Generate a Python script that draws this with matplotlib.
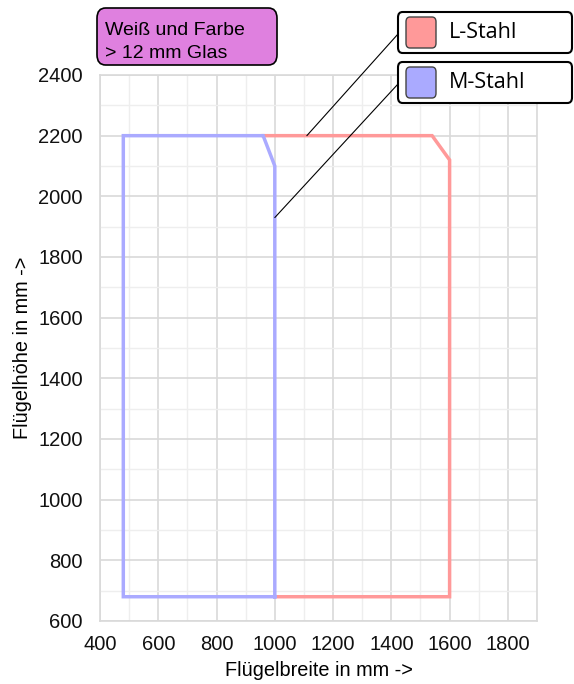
import matplotlib
matplotlib.use("Agg")
import matplotlib.pyplot as plt
from matplotlib.patches import FancyBboxPatch, ConnectionPatch
from matplotlib.ticker import MultipleLocator

# Data
l_stahl_x = [1000, 1600, 1600, 1540, 960]
l_stahl_y = [680, 680, 2120, 2200, 2200]
m_stahl_x = [1000, 1000, 960, 480, 480, 1000]
m_stahl_y = [680, 2100, 2200, 2200, 680, 680]
series_names = ["L-Stahl", "M-Stahl"]
series_colors = ["#FF9999", "#AAAAFF"]
xticks = [400, 600, 800, 1000, 1200, 1400, 1600, 1800]
yticks = [600, 800, 1000, 1200, 1400, 1600, 1800, 2000, 2200, 2400]
title_lines = ["Weiß und Farbe", "> 12 mm Glas"]
xlabel = "Flügelbreite in mm ->"
ylabel = "Flügelhöhe in mm ->"
leader_points = [(1110, 2200), (1000, 1930)]

W, H = 574, 684
fig = plt.figure(figsize=(W / 100, H / 100), dpi=100)

def fx(px):
    return px / W

def fy(py):
    return 1 - py / H

ax = fig.add_axes([fx(100), fy(621), fx(537) - fx(100), fy(75) - fy(621)])
ax.set_xlim(400, 1900)
ax.set_ylim(600, 2400)
ax.set_xticks(xticks)
ax.set_yticks(yticks)
ax.xaxis.set_minor_locator(MultipleLocator(100))
ax.yaxis.set_minor_locator(MultipleLocator(100))
ax.grid(which="major", color="#D9D9D9", lw=1.2)
ax.grid(which="minor", color="#EEEEEE", lw=1.0)
ax.set_axisbelow(True)
for s in ax.spines.values():
    s.set_color("#D9D9D9")
    s.set_linewidth(1.2)
ax.tick_params(which="both", length=0, labelsize=14.5, labelcolor="#111111")
ax.tick_params(axis="x", pad=10)
ax.tick_params(axis="y", pad=12.5)
for lab in ax.get_xticklabels() + ax.get_yticklabels():
    lab.set_fontfamily("Liberation Sans")
ax.set_xlabel(xlabel, fontsize=14.3, fontfamily="Liberation Sans", labelpad=5)
ax.set_ylabel(ylabel, fontsize=14.3, fontfamily="Liberation Sans", labelpad=4)

ax.plot(l_stahl_x, l_stahl_y, color=series_colors[0], lw=2.5, solid_joinstyle="miter")
ax.plot(m_stahl_x, m_stahl_y, color=series_colors[1], lw=2.5, solid_joinstyle="miter")

# Title box
tb = FancyBboxPatch((fx(97), fy(65)), fx(277) - fx(97), fy(8) - fy(65),
                    boxstyle="round,pad=0,rounding_size=0.015",
                    transform=fig.transFigure, facecolor="#DF80DF",
                    edgecolor="black", lw=1.2)
fig.patches.append(tb)
for line, base in zip(title_lines, [35, 58]):
    fig.text(fx(105), fy(base), line, fontsize=14, fontfamily="Liberation Sans",
             va="baseline", ha="left")

# Legend boxes with leader lines
box_tops = [12, 62]
for i, (name, col) in enumerate(zip(series_names, series_colors)):
    top = box_tops[i]
    bot = top + 41
    b = FancyBboxPatch((fx(398), fy(bot)), fx(572) - fx(398), fy(top) - fy(bot),
                       boxstyle="round,pad=0,rounding_size=0.008",
                       transform=fig.transFigure, facecolor="white",
                       edgecolor="black", lw=1.5)
    fig.patches.append(b)
    sq = FancyBboxPatch((fx(406), fy(top + 36)), fx(436) - fx(406), fy(top + 5) - fy(top + 36),
                        boxstyle="round,pad=0,rounding_size=0.007",
                        transform=fig.transFigure, facecolor=col,
                        edgecolor="#444444", lw=1.0)
    fig.patches.append(sq)
    fig.text(fx(449), fy(top + 20), name, fontsize=15.5, fontfamily="Open Sans",
             va="center", ha="left")
    cp = ConnectionPatch(xyA=leader_points[i], coordsA=ax.transData,
                         xyB=(fx(398), fy(top + 22)), coordsB=fig.transFigure,
                         color="black", lw=0.8)
    fig.add_artist(cp)

fig.savefig("out.png", dpi=100)
